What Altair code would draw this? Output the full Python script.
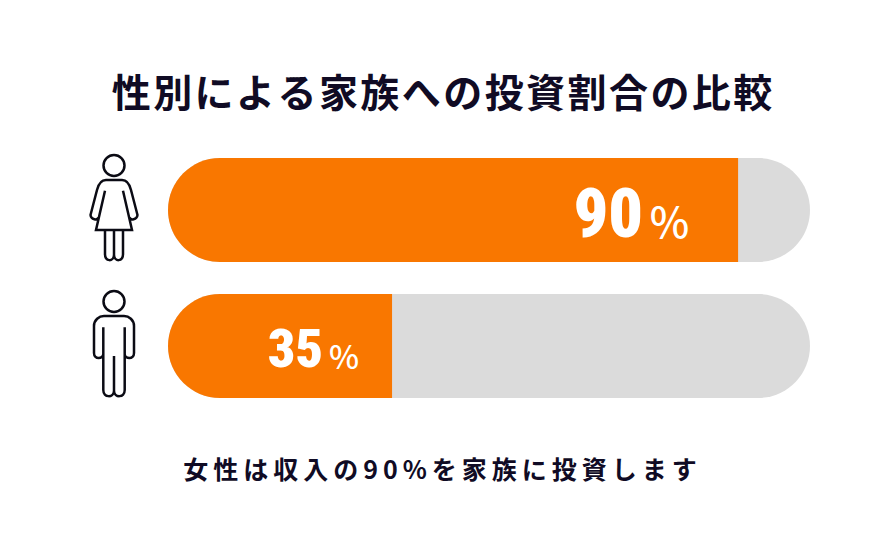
import altair as alt
import pandas as pd

groups = ["女性", "男性"]
labels = ["90", "35"]
fills = [88.8, 34.9]
totals = [100, 100]
title_text = "性別による家族への投資割合の比較"
note_text = "女性は収入の90%を家族に投資します"

WOMAN = ("M-10.5,-44.5 a10.5,10.5 0 1 0 21,0 a10.5,10.5 0 1 0 -21,0 "
         "M-9,-19.3 L-18,20 L18,20 L9,-19.3 "
         "M15.5,7.5 C16.5,10.5 23,10 23.5,5 L17,-20 C15.5,-26 12,-30 8,-30 L-8,-30 "
         "C-12,-30 -15.5,-26 -17,-20 L-23.5,5 C-23,10 -16.5,10.5 -15.5,7.5 "
         "M-9,20 L-9,44 C-9,52 -0.5,52 0,45 C0.5,52 9,52 9,44 L9,20 M0,20 L0,45")
MAN = ("M-10.5,-44.5 a10.5,10.5 0 1 0 21,0 a10.5,10.5 0 1 0 -21,0 "
       "M-10.7,-18.7 L-10.7,44 C-10.7,52 -0.5,52 0,45 C0.5,52 10.7,52 10.7,44 L10.7,-18.7 "
       "M0,10 L0,45 "
       "M10.7,8 C10.7,13 20,14 20,7 L20,-20 C20,-26 15,-30 10,-30 L-10,-30 "
       "C-15,-30 -20,-26 -20,-20 L-20,7 C-20,14 -10.7,13 -10.7,8")

df = pd.DataFrame({"group": groups, "label": labels, "fill": fills, "total": totals, "zero": [0, 0]})

xs = alt.Scale(domain=[0, 100], range=[160, 802])
ys = alt.Scale(type="band", domain=groups, range=[150, 390], paddingInner=32 / 136, paddingOuter=0)
X = lambda f: alt.X(f, type="quantitative", scale=xs, axis=None)
Y = alt.Y("group:N", scale=ys, axis=None)

base = alt.Chart(df)
track = base.mark_bar(color="#DBDBDB", cornerRadius=52).encode(x=X("zero"), x2="total", y=Y)
bar = base.mark_bar(color="#F97700", cornerRadiusTopLeft=52, cornerRadiusBottomLeft=52).encode(x=X("zero"), x2="fill", y=Y)

NUMFONT = "Roboto Condensed, Open Sans Condensed, Noto Sans Condensed, DejaVu Sans Condensed, Roboto"


def row(i, num_size, num_dx, num_dy, pct_size, pct_dx, pct_dy):
    d = base.transform_filter(alt.datum.group == groups[i])
    num = d.mark_text(font=NUMFONT, fontWeight=900, fontSize=num_size, color="white",
                      align="right", baseline="alphabetic", dx=num_dx,
                      dy=num_dy).encode(x=X("fill"), y=Y, text="label:N")
    pct = d.mark_text(font="Noto Sans CJK JP", fontWeight=500, fontSize=pct_size, color="white",
                      align="right", baseline="alphabetic", dx=pct_dx, dy=pct_dy).encode(
        x=X("fill"), y=Y, text=alt.value("%"))
    return num + pct


def icon(i, path):
    return base.transform_filter(alt.datum.group == groups[i]).mark_point(
        shape=path, size=4, filled=False, opacity=1, stroke="#0B0B14", strokeWidth=2.5
    ).encode(x=alt.value(106), y=Y)


title = alt.Chart(pd.DataFrame({"t": ["\u200a".join(title_text)]})).mark_text(
    font="Noto Sans CJK JP", fontWeight="bold", fontSize=39, color="#100B24", align="center", baseline="middle"
).encode(x=alt.value(434), y=alt.value(87), text="t:N")
note = alt.Chart(pd.DataFrame({"t": ["\u2009".join(note_text)]})).mark_text(
    font="Noto Sans CJK JP", fontWeight="bold", fontSize=25, color="#100B24", align="center", baseline="middle"
).encode(x=alt.value(432), y=alt.value(463), text="t:N")

chart = alt.layer(track, bar, row(0, 68, -95, 27, 42, -49, 28), row(1, 54, -69, 21, 32, -33, 23),
                  icon(0, WOMAN), icon(1, MAN), title, note).properties(
    width=864, height=534, padding=0, autosize=alt.AutoSizeParams(type="none"), background="white"
).configure_view(stroke=None)

chart.save("out.html", embed_options={"renderer": "svg", "actions": False})
